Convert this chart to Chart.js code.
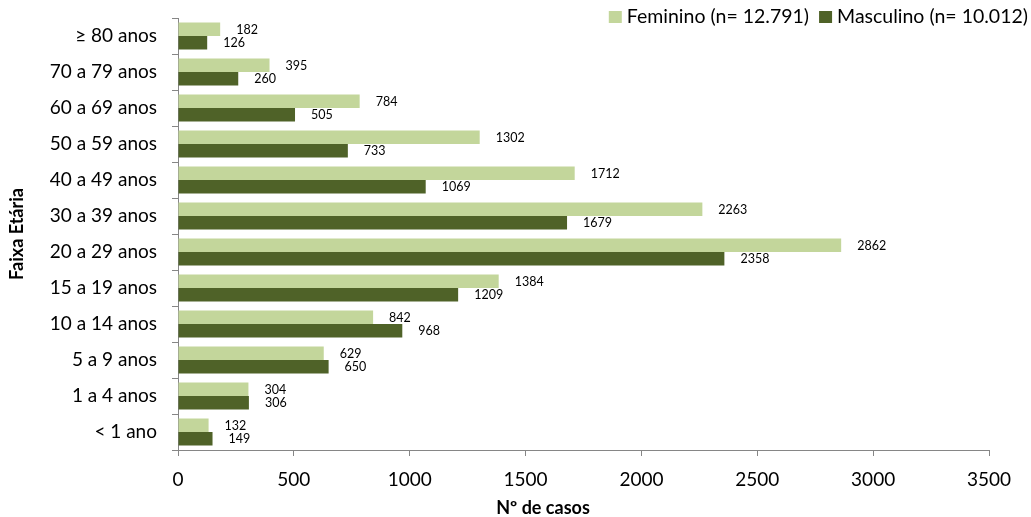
<!DOCTYPE html>
<html>
<head>
<meta charset="utf-8">
<script src="https://cdn.jsdelivr.net/npm/chart.js@4"></script>
<style>
  html, body { margin: 0; padding: 0; background: #fff; }
  #wrap { width: 1031px; height: 517px; position: relative; }
</style>
</head>
<body>
<div id="wrap"><canvas id="c"></canvas></div>
<script>
// Faixas etárias (de cima para baixo)
const faixas = ['≥ 80 anos', '70 a 79 anos', '60 a 69 anos', '50 a 59 anos', '40 a 49 anos',
  '30 a 39 anos', '20 a 29 anos', '15 a 19 anos', '10 a 14 anos', '5 a 9 anos', '1 a 4 anos', '< 1 ano'];
const feminino = [182, 395, 784, 1302, 1712, 2263, 2862, 1384, 842, 629, 304, 132];
const masculino = [126, 260, 505, 733, 1069, 1679, 2358, 1209, 968, 650, 306, 149];
const nomesSeries = ['Feminino (n= 12.791)', 'Masculino (n= 10.012)'];
const xTicks = [0, 500, 1000, 1500, 2000, 2500, 3000, 3500];
const tituloX = 'Nº de casos';
const tituloY = 'Faixa Etária';

const FONT = 'Lato, "Open Sans", sans-serif';
const corFem = '#c3d69b';
const corMasc = '#4f6228';
const corEixo = '#868686';

// Rótulos de valor à direita de cada barra
const rotulosValor = {
  id: 'rotulosValor',
  afterDatasetsDraw(chart) {
    const ctx = chart.ctx;
    ctx.save();
    ctx.font = '12.5px ' + FONT;
    ctx.fillStyle = '#000';
    ctx.textAlign = 'left';
    ctx.textBaseline = 'middle';
    chart.data.datasets.forEach((ds, i) => {
      chart.getDatasetMeta(i).data.forEach((bar, j) => {
        ctx.fillText(String(ds.data[j]), bar.x + 16, bar.y + 0.5);
      });
    });
    ctx.restore();
  }
};

// Legenda no canto superior direito e título do eixo horizontal
const legendaTopo = {
  id: 'legendaTopo',
  afterDraw(chart) {
    const ctx = chart.ctx;
    ctx.save();
    ctx.font = '19.5px ' + FONT;
    ctx.textBaseline = 'middle';
    ctx.textAlign = 'left';
    const cores = [corFem, corMasc];
    const y = 17;
    const box = 13, gap = 5, sep = 10;
    let total = 0;
    nomesSeries.forEach(n => { total += box + gap + ctx.measureText(n).width; });
    total += sep;
    let x = 1028 - total;
    nomesSeries.forEach((n, i) => {
      ctx.fillStyle = cores[i];
      ctx.fillRect(x, y - 6, box, box - 1);
      x += box + gap;
      ctx.fillStyle = '#000';
      ctx.fillText(n, x, y);
      x += ctx.measureText(n).width + sep;
    });

    ctx.font = 'bold 18px ' + FONT;
    ctx.textAlign = 'center';
    ctx.fillText(tituloX, 543, 508);
    ctx.restore();
  }
};

new Chart(document.getElementById('c'), {
  type: 'bar',
  data: {
    labels: faixas,
    datasets: [
      { label: nomesSeries[0], data: feminino, backgroundColor: corFem },
      { label: nomesSeries[1], data: masculino, backgroundColor: corMasc }
    ]
  },
  options: {
    indexAxis: 'y',
    responsive: true,
    maintainAspectRatio: false,
    animation: false,
    datasets: { bar: { categoryPercentage: 0.75, barPercentage: 1.0 } },
    layout: { padding: { left: 0, right: 42, top: 18, bottom: 0 } },
    plugins: { legend: { display: false }, tooltip: { enabled: false } },
    scales: {
      x: {
        min: 0, max: 3500,
        afterBuildTicks(scale) { scale.ticks = xTicks.map(v => ({ value: v })); },
        afterFit(scale) { scale.height = 67; scale.paddingLeft = 0; scale.paddingRight = 0; },
        border: { color: corEixo, width: 1 },
        grid: { drawOnChartArea: false, drawTicks: true, tickLength: 6, color: corEixo },
        ticks: { color: '#000', font: { family: FONT, size: 19 }, padding: 12,
                 callback: v => String(v) },
        title: { display: false }
      },
      y: {
        afterFit(scale) { scale.width = 178; scale.paddingTop = 0; scale.paddingBottom = 0; },
        border: { color: corEixo, width: 1 },
        grid: { drawOnChartArea: false, drawTicks: true, tickLength: 6, color: corEixo, offset: true },
        ticks: { color: '#000', font: { family: FONT, size: 19 }, padding: 15 },
        title: { display: true, text: tituloY, color: '#000',
                 font: { family: FONT, size: 18, weight: 'bold', lineHeight: 1.0 },
                 padding: { top: 8, bottom: 0 } }
      }
    }
  },
  plugins: [rotulosValor, legendaTopo]
});
</script>
</body>
</html>
